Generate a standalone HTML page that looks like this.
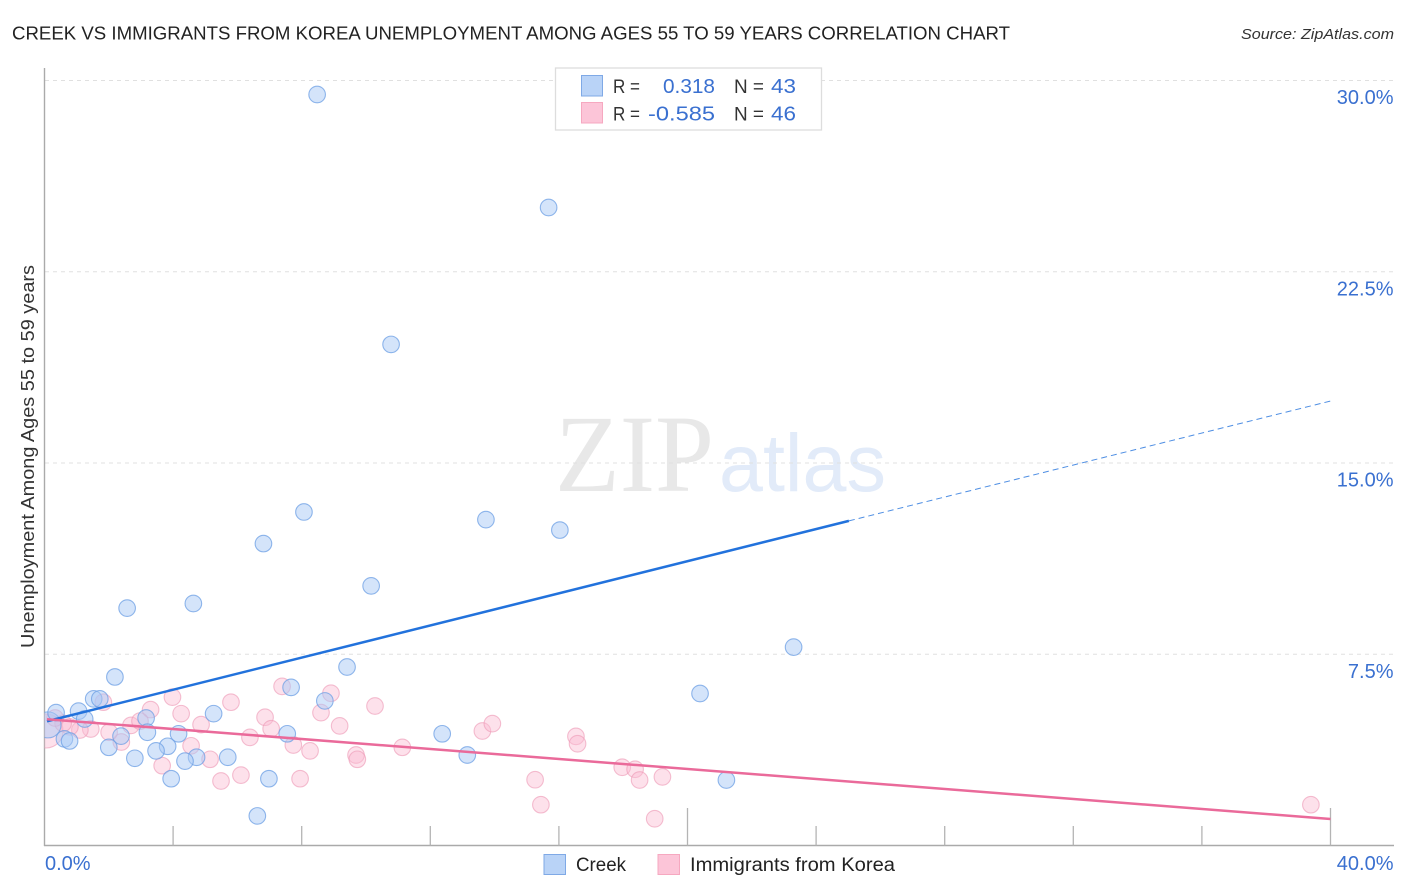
<!DOCTYPE html>
<html lang="en">
<head>
<meta charset="utf-8">
<title>Creek vs Immigrants from Korea Unemployment Correlation Chart</title>
<style>
html,body{margin:0;padding:0;background:#fff;width:1406px;height:892px;overflow:hidden}
svg{display:block;font-family:"Liberation Sans",sans-serif}
</style>
</head>
<body>
<svg id="chart" xmlns="http://www.w3.org/2000/svg" width="1406" height="892" viewBox="0 0 1406 892">
  <defs>
    <clipPath id="plot-clip"><rect x="44.5" y="68" width="1350" height="778"/></clipPath>
  </defs>
  <text x="12" y="39.5" font-size="18.5" fill="#222" textLength="998" lengthAdjust="spacingAndGlyphs">CREEK VS IMMIGRANTS FROM KOREA UNEMPLOYMENT AMONG AGES 55 TO 59 YEARS CORRELATION CHART</text>
  <text x="1241" y="39" font-size="15" font-style="italic" fill="#333" textLength="153" lengthAdjust="spacingAndGlyphs">Source: ZipAtlas.com</text>
  <g id="watermark">
    <text x="555" y="491" font-family="'Liberation Serif',serif" font-size="110" fill="#e8e8e8" textLength="159" lengthAdjust="spacingAndGlyphs">ZIP</text>
    <text x="719" y="491" font-size="82" fill="#e2ebf9" textLength="167" lengthAdjust="spacingAndGlyphs">atlas</text>
  </g>
  <g id="grid"></g>
  <g id="axes"></g>
  <g id="pink-points" clip-path="url(#plot-clip)"></g>
  <g id="blue-points" clip-path="url(#plot-clip)"></g>
  <g id="trends"></g>
  <text transform="translate(34 648) rotate(-90)" font-size="18" fill="#333" textLength="383" lengthAdjust="spacingAndGlyphs">Unemployment Among Ages 55 to 59 years</text>
  <g id="y-labels"></g>
  <g id="x-labels"></g>

  <g>
    <rect x="555.5" y="68" width="266" height="62" fill="#fff" stroke="#ddd" stroke-width="1.3"/>
    <rect x="581.5" y="75.5" width="21" height="20.5" fill="#b9d3f7" stroke="#7fa9e6"/>
    <rect x="581.5" y="102.5" width="21" height="20.5" fill="#fcc5d8" stroke="#f6a8c0"/>
    <text x="613" y="93" font-size="19" fill="#333" textLength="27" lengthAdjust="spacingAndGlyphs">R =</text>
    <text x="663" y="93" font-size="20" fill="#3a70d0" textLength="52" lengthAdjust="spacingAndGlyphs">0.318</text>
    <text x="734" y="93" font-size="19" fill="#333" textLength="30" lengthAdjust="spacingAndGlyphs">N =</text>
    <text x="771" y="93" font-size="20" fill="#3a70d0" textLength="25" lengthAdjust="spacingAndGlyphs">43</text>
    <text x="613" y="120.5" font-size="19" fill="#333" textLength="27" lengthAdjust="spacingAndGlyphs">R =</text>
    <text x="648" y="120.5" font-size="20" fill="#3a70d0" textLength="67" lengthAdjust="spacingAndGlyphs">-0.585</text>
    <text x="734" y="120.5" font-size="19" fill="#333" textLength="30" lengthAdjust="spacingAndGlyphs">N =</text>
    <text x="771" y="120.5" font-size="20" fill="#3a70d0" textLength="25" lengthAdjust="spacingAndGlyphs">46</text>
  </g>

  <g>
    <rect x="544" y="854.5" width="21.5" height="20" fill="#b9d3f7" stroke="#7fa9e6"/>
    <text x="576" y="871" font-size="19" fill="#222" textLength="50" lengthAdjust="spacingAndGlyphs">Creek</text>
    <rect x="658" y="854.5" width="21.5" height="20" fill="#fcc5d8" stroke="#f6a8c0"/>
    <text x="690" y="871" font-size="19" fill="#222" textLength="205" lengthAdjust="spacingAndGlyphs">Immigrants from Korea</text>
  </g>
</svg>
<script>
const yTicks = [7.5, 15, 22.5, 30];
const yTickLabels = ["7.5%", "15.0%", "22.5%", "30.0%"];
const xTicks = [4, 8, 12, 16, 20, 24, 28, 32, 36, 40];
const xMajorTicks = [20, 40];
const xEdgeValues = [0, 40];
const xEdgeLabels = ["0.0%", "40.0%"];

const creekX = [0.11, 8.48, 15.68, 10.78, 8.07, 13.73, 16.03, 6.81, 10.16, 2.57, 4.63, 23.30, 9.41, 2.19, 7.67, 20.39, 8.72, 1.53, 1.72, 0.36, 1.06, 1.25, 5.26, 3.16, 3.20, 2.38, 4.17, 0.62, 0.78, 7.55, 12.37, 2.00, 3.83, 3.47, 4.73, 4.37, 2.81, 5.70, 13.15, 3.94, 6.98, 21.21, 6.62];
const creekY = [4.73, 29.45, 25.02, 19.65, 13.08, 12.78, 12.37, 11.84, 10.18, 9.31, 9.49, 7.78, 7.00, 6.61, 6.20, 5.96, 5.67, 5.75, 5.75, 5.21, 5.27, 4.96, 5.17, 5.00, 4.44, 4.29, 4.38, 4.18, 4.10, 4.38, 4.38, 3.85, 3.89, 3.71, 3.46, 3.31, 3.42, 3.46, 3.55, 2.62, 2.62, 2.57, 1.16];

const koreaX = [0.05, 3.98, 7.39, 8.91, 5.80, 4.25, 3.30, 1.83, 8.60, 6.86, 7.05, 4.87, 2.69, 2.97, 9.18, 6.39, 4.56, 2.39, 2.01, 1.44, 1.10, 0.79, 0.58, 0.33, 7.74, 8.26, 5.15, 3.66, 5.49, 6.11, 7.95, 10.28, 11.13, 9.69, 9.73, 13.62, 13.93, 15.26, 15.44, 16.53, 16.58, 17.97, 18.37, 18.51, 19.22, 18.98, 39.39];
const koreaY = [4.49, 5.82, 6.24, 5.97, 5.62, 5.17, 5.33, 5.62, 5.21, 5.03, 4.58, 4.74, 4.71, 4.88, 4.69, 4.24, 3.91, 4.06, 4.44, 4.57, 4.53, 4.65, 4.79, 5.00, 3.94, 3.71, 3.38, 3.13, 2.53, 2.76, 2.62, 5.47, 3.85, 3.55, 3.38, 4.49, 4.78, 2.58, 1.60, 4.28, 3.99, 3.07, 2.99, 2.57, 2.69, 1.05, 1.60];

const creekTrendX = [0, 25.02, 40];
const creekTrendY = [4.85, 12.73, 17.43];
const koreaTrendX = [0, 40];
const koreaTrendY = [4.96, 1.04];

const SVGNS = "http://www.w3.org/2000/svg";
const xScale = v => 44.5 + v * 32.15;
const yScale = v => 845.5 - v * 25.5;

function make(tag, attrs, parentId) {
  const el = document.createElementNS(SVGNS, tag);
  for (const k in attrs) el.setAttribute(k, attrs[k]);
  document.getElementById(parentId).appendChild(el);
  return el;
}

// gridlines
yTicks.forEach(v => {
  const el = make("line", {x1: 45, x2: 1393, y1: yScale(v), y2: yScale(v), stroke: "#e0e0e0", "stroke-width": 1, "stroke-dasharray": "4 4"}, "grid");
  
  
});

// axes
const yAxisLine = make("line", {x1: 44.5, x2: 44.5, y1: 68, y2: 846, stroke: "#aaa", "stroke-width": 1.4}, "axes");


const xAxisLine = make("line", {x1: 44, x2: 1394, y1: 845.5, y2: 845.5, stroke: "#aaa", "stroke-width": 1.4}, "axes");


xTicks.forEach(v => {
  const top = xMajorTicks.includes(v) ? 808 : 826;
  const el = make("line", {x1: xScale(v), x2: xScale(v), y1: top, y2: 845.5, stroke: "#b4b4b4", "stroke-width": 1.3}, "axes");
  
  
});

// tick labels
yTicks.forEach((v, i) => {
  const el = make("text", {x: 1393.5, y: yScale(v) + 23.5, "text-anchor": "end", "font-size": 20, fill: "#3a70d0"}, "y-labels");
  
  
  el.textContent = yTickLabels[i];
});
xEdgeValues.forEach((v, i) => {
  const el = i === 0
    ? make("text", {x: xScale(v) + 0.5, y: 870, "font-size": 20, fill: "#3a70d0"}, "x-labels")
    : make("text", {x: 1393.5, y: 870, "text-anchor": "end", "font-size": 20, fill: "#3a70d0"}, "x-labels");
  
  
  el.textContent = xEdgeLabels[i];
});

// points: the first entry of each series is the aggregated large bubble at the origin
koreaX.forEach((v, i) => {
  const el = make("circle", {cx: xScale(v), cy: yScale(koreaY[i]), r: i === 0 ? 17 : 8.3, fill: "#fbbdd2", "fill-opacity": 0.45, stroke: "#ee9db8", "stroke-opacity": 0.65, "stroke-width": 1.1}, "pink-points");
  
  
});
creekX.forEach((v, i) => {
  const el = make("circle", {cx: xScale(v), cy: yScale(creekY[i]), r: i === 0 ? 13 : 8.3, fill: "#a9c9f5", "fill-opacity": 0.5, stroke: "#6c9fe4", "stroke-opacity": 0.75, "stroke-width": 1.1}, "blue-points");
  
  
});

// trend lines
const creekSolid = make("line", {x1: xScale(creekTrendX[0]) + 2.5, y1: yScale(creekTrendY[0]) - 0.6, x2: xScale(creekTrendX[1]), y2: yScale(creekTrendY[1]), stroke: "#2272dc", "stroke-width": 2.5}, "trends");


const creekDash = make("line", {x1: xScale(creekTrendX[1]), y1: yScale(creekTrendY[1]), x2: xScale(creekTrendX[2]), y2: yScale(creekTrendY[2]), stroke: "#2272dc", "stroke-width": 1, "stroke-opacity": 0.8, "stroke-dasharray": "6 4"}, "trends");


const koreaLine = make("line", {x1: xScale(koreaTrendX[0]) + 2.5, y1: yScale(koreaTrendY[0]) + 0.2, x2: xScale(koreaTrendX[1]), y2: yScale(koreaTrendY[1]), stroke: "#ea6a9a", "stroke-width": 2.5}, "trends");


</script>
</body>
</html>
